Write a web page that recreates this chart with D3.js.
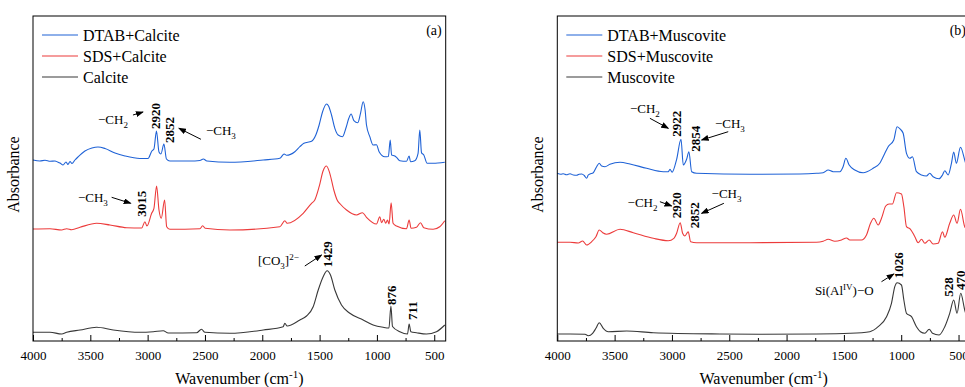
<!DOCTYPE html>
<html>
<head>
<meta charset="utf-8">
<script src="https://cdn.jsdelivr.net/npm/d3@7"></script>
<style>
  body { margin: 0; background: #fff; }
  svg { display: block; font-family: "Liberation Serif", "Times New Roman", serif; }
</style>
</head>
<body>
<svg id="chart" width="965" height="387"></svg>
<script>
// wavenumber ticks (cm-1)
const majorTicks = [4000, 3500, 3000, 2500, 2000, 1500, 1000, 500];
const minorTicks = [3750, 3250, 2750, 2250, 1750, 1250, 750];

// spectra, [wavenumber, absorbance (offset, a.u.)]
const dtabCalcite = [[4000,1.81],[3940,1.80],[3895,1.808],[3850,1.797],[3808,1.80],[3785,1.79],[3765,1.78],[3738,1.76],[3712,1.79],[3695,1.765],[3677,1.795],[3660,1.775],[3634,1.81],[3608,1.84],[3547,1.90],[3486,1.93],[3433,1.94],[3372,1.925],[3285,1.88],[3198,1.85],[3067,1.825],[2997,1.825],[2963,1.90],[2945,1.92],[2923,2.10],[2901,1.89],[2884,1.87],[2858,1.97],[2836,1.82],[2806,1.80],[2631,1.80],[2544,1.805],[2514,1.82],[2483,1.80],[2282,1.787],[1992,1.81],[1847,1.827],[1809,1.87],[1788,1.857],[1716,1.893],[1672,1.943],[1637,1.977],[1570,1.997],[1533,2.06],[1504,2.16],[1474,2.293],[1439,2.37],[1422,2.35],[1396,2.26],[1367,2.127],[1338,2.06],[1300,2.043],[1271,2.127],[1245,2.227],[1225,2.27],[1201,2.203],[1167,2.183],[1143,2.277],[1120,2.393],[1103,2.31],[1091,2.16],[1062,2.043],[1033,1.96],[1004,1.963],[981,1.893],[931,1.843],[900,1.845],[884,2.01],[872,1.86],[844,1.85],[829,1.837],[800,1.803],[742,1.797],[719,1.85],[707,1.793],[670,1.803],[641,1.877],[626,2.11],[611,1.883],[591,1.86],[562,1.777],[510,1.777],[408,1.787]];
const sdsCalcite = [[4000,1.12],[3852,1.123],[3750,1.11],[3706,1.123],[3662,1.113],[3590,1.137],[3445,1.177],[3329,1.16],[3183,1.133],[3052,1.13],[3024,1.193],[3006,1.15],[2965,1.277],[2945,1.327],[2922,1.55],[2901,1.31],[2881,1.227],[2852,1.41],[2834,1.143],[2806,1.117],[2544,1.123],[2520,1.153],[2498,1.127],[2282,1.11],[1847,1.143],[1803,1.203],[1783,1.177],[1643,1.277],[1570,1.377],[1542,1.41],[1504,1.543],[1469,1.703],[1440,1.75],[1411,1.677],[1376,1.51],[1347,1.41],[1320,1.37],[1265,1.31],[1178,1.26],[1126,1.283],[1091,1.237],[1004,1.17],[975,1.243],[960,1.183],[940,1.217],[923,1.177],[908,1.21],[894,1.17],[876,1.383],[859,1.177],[829,1.15],[742,1.123],[719,1.21],[702,1.127],[655,1.137],[620,1.183],[591,1.133],[510,1.117],[452,1.143],[408,1.203]];
const calcite = [[4000,0.087],[3852,0.087],[3750,0.07],[3706,0.087],[3590,0.11],[3445,0.137],[3300,0.11],[3067,0.087],[2951,0.093],[2864,0.103],[2820,0.08],[2573,0.083],[2530,0.117],[2500,0.087],[2282,0.077],[1992,0.11],[1818,0.143],[1803,0.177],[1783,0.15],[1672,0.21],[1614,0.25],[1556,0.343],[1512,0.51],[1469,0.643],[1434,0.703],[1405,0.66],[1367,0.51],[1309,0.36],[1236,0.277],[1120,0.21],[1033,0.16],[946,0.137],[895,0.13],[878,0.35],[864,0.145],[800,0.093],[733,0.07],[719,0.17],[704,0.093],[655,0.083],[568,0.07],[481,0.093],[408,0.16]];

const dtabMuscovite = [[4000,1.677],[3970,1.667],[3948,1.672],[3920,1.662],[3889,1.673],[3860,1.66],[3831,1.657],[3810,1.668],[3787,1.67],[3765,1.655],[3744,1.627],[3730,1.66],[3715,1.67],[3686,1.683],[3657,1.743],[3634,1.777],[3613,1.75],[3584,1.743],[3541,1.767],[3453,1.787],[3366,1.77],[3221,1.727],[3076,1.693],[3032,1.693],[3017,1.717],[2999,1.687],[2959,1.817],[2921,2.017],[2901,1.76],[2872,1.817],[2852,1.893],[2828,1.693],[2785,1.677],[2320,1.667],[1884,1.67],[1739,1.677],[1681,1.683],[1637,1.71],[1594,1.693],[1535,1.693],[1507,1.743],[1483,1.827],[1454,1.76],[1405,1.71],[1332,1.683],[1245,1.727],[1187,1.777],[1143,1.877],[1114,1.943],[1065,2.01],[1036,2.143],[1007,2.117],[983,2.077],[954,1.877],[925,1.827],[902,1.843],[867,1.693],[823,1.66],[780,1.65],[751,1.677],[722,1.643],[670,1.623],[640,1.66],[620,1.703],[591,1.66],[562,1.777],[542,1.89],[519,1.777],[483,1.937],[446,1.81],[420,1.71],[400,1.69]];
const sdsMuscovite = [[4000,0.987],[3889,0.987],[3817,0.98],[3779,1.00],[3744,0.96],[3700,0.993],[3663,1.043],[3634,1.11],[3604,1.083],[3570,1.067],[3453,1.117],[3337,1.083],[3163,1.027],[3032,1.003],[2983,1.027],[2959,1.077],[2928,1.183],[2907,1.077],[2887,1.05],[2858,1.093],[2837,0.993],[2785,0.983],[2320,0.983],[1739,0.987],[1681,0.997],[1637,1.017],[1579,0.997],[1521,1.01],[1477,1.03],[1448,1.01],[1347,1.01],[1303,1.06],[1268,1.177],[1239,1.227],[1201,1.16],[1172,1.227],[1135,1.35],[1106,1.37],[1077,1.37],[1041,1.483],[998,1.47],[977,1.343],[954,1.143],[919,1.117],[881,1.043],[852,0.983],[823,1.017],[794,0.977],[756,1.01],[722,0.97],[678,0.977],[640,1.093],[620,1.037],[577,1.177],[542,1.26],[513,1.177],[483,1.317],[446,1.143],[420,1.11],[400,1.06]];
const muscovite = [[4000,0.07],[3889,0.07],[3758,0.067],[3730,0.053],[3692,0.077],[3663,0.127],[3634,0.183],[3599,0.127],[3555,0.093],[3395,0.10],[3163,0.083],[2581,0.07],[2233,0.067],[1739,0.07],[1448,0.077],[1274,0.093],[1201,0.143],[1128,0.243],[1085,0.377],[1056,0.543],[1036,0.583],[998,0.56],[977,0.41],[954,0.277],[910,0.243],[867,0.143],[832,0.093],[794,0.077],[756,0.117],[727,0.077],[670,0.06],[620,0.143],[577,0.277],[542,0.41],[513,0.277],[481,0.477],[446,0.31],[420,0.21],[400,0.13]];

// peak labels: [text, wavenumber, absorbance at label foot]
const calcitePeaks = [["2920",2935,2.12],["2852",2806,1.98],["3015",3052,1.243],["1429",1434,0.737],["876",876,0.36],["711",690,0.21]];
const muscovitePeaks = [["2922",2959,2.043],["2854",2793,1.893],["2920",2959,1.227],["2852",2808,1.127],["1026",1027,0.627],["528",591,0.443],["470",480,0.51]];

// group labels: wavenumber, absorbance, text pieces
const calciteGroups = [
  {w: 3433, a: 2.175, parts: [["−CH"], ["2", "sub"]]},
  {w: 2492, a: 2.06, parts: [["−CH"], ["3", "sub"]]},
  {w: 3608, a: 1.393, parts: [["−CH"], ["3", "sub"]]},
  {w: 2038, a: 0.76, parts: [["[CO"], ["3", "sub"], ["]"], ["2−", "sup"]]}
];
const muscoviteGroups = [
  {w: 3366, a: 2.277, parts: [["−CH"], ["2", "sub"]]},
  {w: 2625, a: 2.13, parts: [["−CH"], ["3", "sub"]]},
  {w: 3387, a: 1.343, parts: [["−CH"], ["2", "sub"]]},
  {w: 2654, a: 1.427, parts: [["−CH"], ["3", "sub"]]},
  {w: 1753, a: 0.46, parts: [["Si(Al"], ["IV", "sup"], [")−O"]]}
];

// arrows: [w1, a1, w2, a2]
const calciteArrows = [[3128,2.26,3041,2.29],[2535,2.017,2727,2.127],[3314,1.437,3148,1.377],[1629,0.75,1483,0.86]];
const muscoviteArrows = [[3192,2.227,3032,2.127],[2509,2.093,2741,2.01],[3105,1.393,3003,1.35],[2547,1.377,2741,1.277],[1172,0.593,1065,0.67]];

const blue = "#1f62d6", red = "#ec3b3b", dark = "#383838";

const svg = d3.select("#chart");
svg.append("defs").append("marker")
  .attr("id", "arrow")
  .attr("markerUnits", "userSpaceOnUse")
  .attr("markerWidth", 8).attr("markerHeight", 6)
  .attr("refX", 7).attr("refY", 3)
  .attr("orient", "auto")
  .append("path").attr("d", "M0,0L8,3L0,6Z").attr("fill", "#000");

const panels = [
  {left: 33, tag: "(a)", series: [["DTAB+Calcite", blue, dtabCalcite], ["SDS+Calcite", red, sdsCalcite], ["Calcite", dark, calcite]],
   peaks: calcitePeaks, groups: calciteGroups, arrows: calciteArrows},
  {left: 557.3, tag: "(b)", series: [["DTAB+Muscovite", blue, dtabMuscovite], ["SDS+Muscovite", red, sdsMuscovite], ["Muscovite", dark, muscovite]],
   peaks: muscovitePeaks, groups: muscoviteGroups, arrows: muscoviteArrows}
];

const plotTop = 16, plotBottom = 341, plotWidth = 412.7;

panels.forEach(p => {
  const x = d3.scaleLinear().domain([4000, 400]).range([p.left, p.left + plotWidth]);
  const y = d3.scaleLinear().domain([0, 3.25]).range([plotBottom, plotTop]);
  const g = svg.append("g");

  const line = d3.line().x(d => x(d[0])).y(d => y(d[1])).curve(d3.curveMonotoneX);
  p.series.forEach(s => {
    g.append("path").datum(s[2])
      .attr("d", line).attr("fill", "none")
      .attr("stroke", s[1]).attr("stroke-width", 1.1);
  });

  // frame
  g.append("rect").attr("x", p.left).attr("y", plotTop)
    .attr("width", plotWidth).attr("height", plotBottom - plotTop)
    .attr("fill", "none").attr("stroke", "#000").attr("stroke-width", 1);

  // bottom axis, ticks inward
  const axis = g.append("g").attr("transform", `translate(0,${plotBottom})`)
    .call(d3.axisBottom(x).tickValues(majorTicks).tickSize(-6).tickFormat(d3.format("d")));
  axis.select(".domain").remove();
  axis.selectAll("text").attr("y", 10).attr("dy", "0.71em")
    .style("font-size", "13px").style("font-family", "Liberation Serif, serif").attr("fill", "#000");
  g.append("g").attr("transform", `translate(0,${plotBottom})`)
    .call(d3.axisBottom(x).tickValues(minorTicks).tickSize(-3).tickFormat(""))
    .select(".domain").remove();

  // axis titles
  const xt = g.append("text").attr("x", p.left + plotWidth / 2).attr("y", 384)
    .attr("text-anchor", "middle").style("font-size", "16px");
  xt.append("tspan").text("Wavenumber (cm");
  xt.append("tspan").text("-1").attr("dy", -6).style("font-size", "11px");
  xt.append("tspan").text(")").attr("dy", 6);

  g.append("text").attr("transform", `translate(${p.left - 14},${(plotTop + plotBottom) / 2 - 4}) rotate(-90)`)
    .attr("text-anchor", "middle").style("font-size", "16px").text("Absorbance");

  // legend
  p.series.forEach((s, i) => {
    const ly = 35 + i * 21;
    g.append("line").attr("x1", p.left + 9).attr("x2", p.left + 45)
      .attr("y1", ly).attr("y2", ly).attr("stroke", s[1]).attr("stroke-width", 1.2);
    g.append("text").attr("x", p.left + 50).attr("y", ly + 5.5)
      .style("font-size", "16px").text(s[0]);
  });

  g.append("text").attr("x", p.left + plotWidth - 4).attr("y", 35)
    .attr("text-anchor", "end").style("font-size", "14px").text(p.tag);

  // peak labels, rotated
  p.peaks.forEach(d => {
    g.append("text")
      .attr("transform", `translate(${x(d[1])},${y(d[2])}) rotate(-90)`)
      .attr("dy", "0.35em").style("font-size", "13px").style("font-weight", "bold")
      .text(d[0]);
  });

  // group labels
  p.groups.forEach(d => {
    const t = g.append("text").attr("x", x(d.w)).attr("y", y(d.a)).style("font-size", "13px");
    let shift = 0;
    d.parts.forEach(part => {
      const target = part[1] === "sub" ? 4 : part[1] === "sup" ? -5 : 0;
      const ts = t.append("tspan").text(part[0]).attr("dy", target - shift);
      if (part[1]) ts.style("font-size", "9px");
      shift = target;
    });
  });

  // arrows
  p.arrows.forEach(d => {
    g.append("line")
      .attr("x1", x(d[0])).attr("y1", y(d[1]))
      .attr("x2", x(d[2])).attr("y2", y(d[3]))
      .attr("stroke", "#000").attr("stroke-width", 1)
      .attr("marker-end", "url(#arrow)");
  });
});
</script>
</body>
</html>
